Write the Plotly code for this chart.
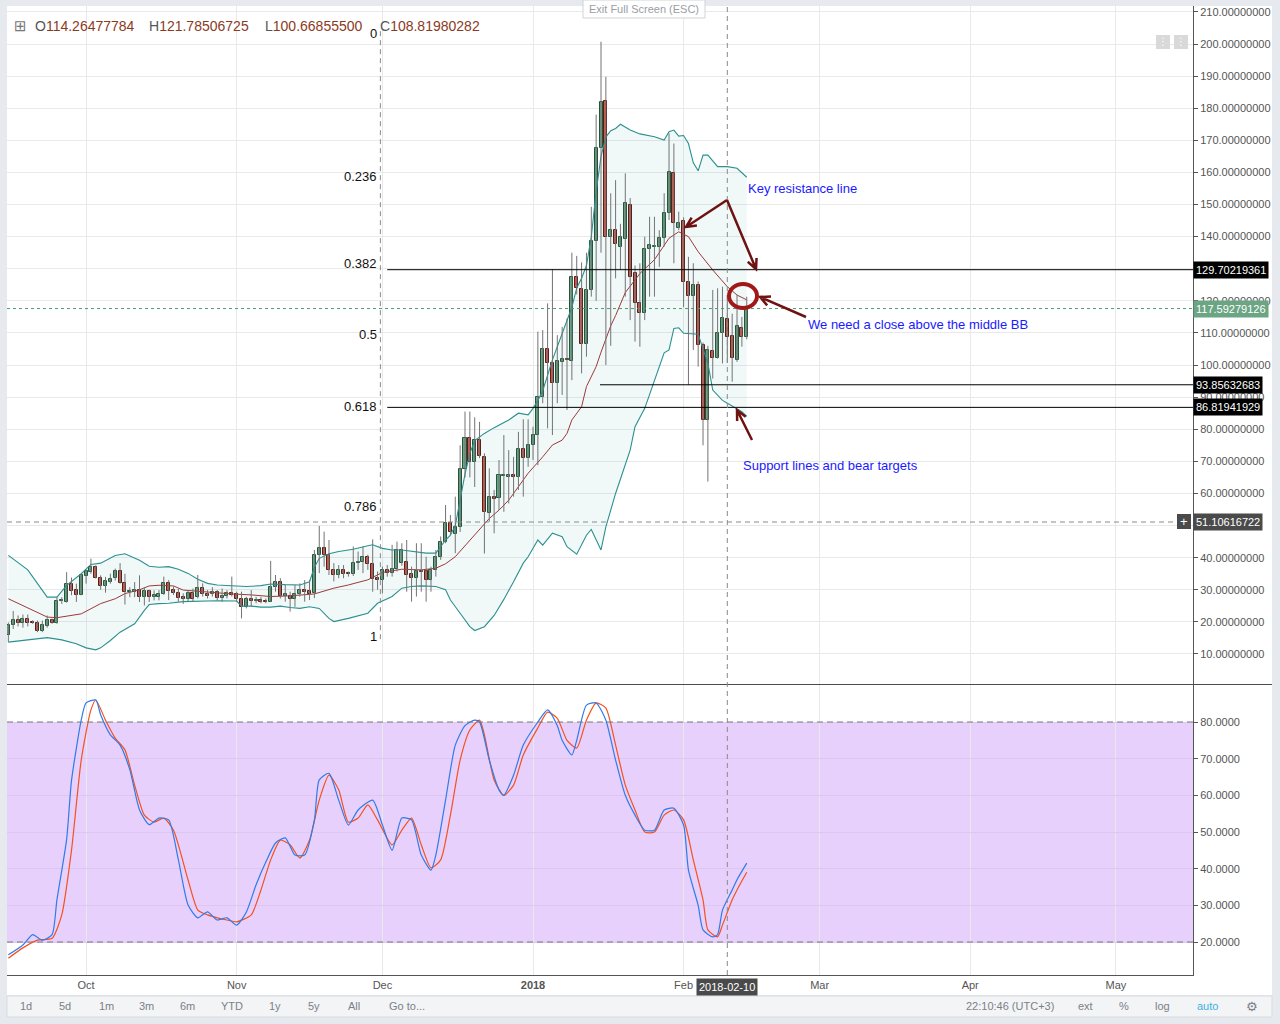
import math
import pandas as pd
import plotly.graph_objects as go

# ---------------- DATA ----------------
START = "2017-09-15"   # first daily candle

opens = [15.8, 18.9, 20.7, 19.6, 21.0, 19.8, 19.8, 17.3, 18.8, 20.5,
         19.6, 26.4, 26.2, 31.9, 29.8, 28.5, 34.3, 35.5, 37.1, 33.8,
         31.3, 32.4, 33.7, 36.0, 32.2, 29.4, 29.3, 30.0, 27.7, 29.5,
         27.9, 27.9, 28.6, 32.0, 29.9, 28.9, 27.9, 27.1, 28.9, 27.6,
         30.4, 28.7, 28.6, 29.2, 27.3, 28.2, 28.9, 28.6, 27.0, 24.5,
         27.1, 26.5, 26.8, 26.5, 26.3, 30.8, 32.3, 28.2, 28.2, 27.0,
         28.6, 29.9, 29.6, 28.9, 40.9, 42.9, 40.7, 36.2, 34.6, 36.2,
         34.9, 34.9, 38.3, 38.6, 40.1, 38.1, 33.6, 32.9, 36.2, 35.2,
         36.5, 38.4, 38.8, 34.9, 33.6, 35.7, 35.7, 32.9, 36.2, 40.3,
         45.0, 50.7, 47.5, 49.6, 67.5, 77.2, 69.9, 76.8, 71.4, 53.8,
         58.8, 58.5, 65.4, 65.2, 65.9, 65.0, 73.7, 71.2, 75.0, 78.2,
         90.1, 104.9, 100.5, 94.5, 100.8, 101.9, 101.4, 127.3, 123.6, 106.7,
         123.4, 138.7, 167.5, 182.2, 140.0, 142.0, 136.7, 139.2, 149.8, 128.6,
         119.2, 116.3, 136.3, 136.8, 136.8, 139.5, 147.5, 159.7, 142.8, 144.9,
         126.0, 121.5, 125.0, 106.2, 82.9, 104.4, 102.1, 109.9, 114.26477784, 109.0,
         101.6, 111.4, 108.6]
highs = [19.8, 23.4, 22.0, 22.3, 22.3, 20.5, 20.4, 20.4, 22.0, 21.0,
         27.7, 27.7, 35.5, 33.8, 31.9, 35.0, 36.3, 39.7, 37.6, 34.5,
         34.0, 35.0, 36.6, 38.3, 35.0, 30.8, 32.4, 34.5, 30.8, 30.0,
         29.8, 29.9, 34.1, 33.0, 31.0, 30.4, 28.9, 29.9, 30.4, 34.6,
         32.0, 29.9, 30.8, 29.9, 30.4, 29.9, 34.1, 29.4, 29.4, 27.8,
         29.9, 27.8, 27.8, 27.3, 39.0, 34.6, 33.6, 31.5, 29.4, 31.5,
         32.0, 33.0, 33.0, 42.4, 49.9, 48.1, 45.5, 38.3, 37.7, 37.7,
         35.7, 43.5, 41.9, 43.5, 40.9, 45.7, 35.7, 37.2, 37.7, 44.0,
         45.0, 44.5, 45.5, 37.2, 44.5, 44.5, 40.3, 37.2, 42.4, 46.6,
         56.4, 53.3, 59.0, 75.0, 85.5, 85.5, 83.7, 82.3, 72.5, 67.8,
         61.1, 70.4, 78.2, 73.5, 71.4, 79.2, 83.1, 83.1, 80.8, 110.4,
         110.9, 119.2, 129.8, 109.3, 111.9, 114.5, 135.0, 134.0, 132.0, 135.0,
         149.3, 178.0, 200.7, 189.8, 153.5, 157.6, 144.0, 159.7, 152.0, 131.0,
         131.7, 140.0, 146.2, 146.2, 142.0, 153.5, 172.2, 169.0, 147.8, 146.0,
         133.7, 131.7, 126.0, 107.0, 106.0, 123.4, 123.9, 124.4, 121.78506725, 116.0,
         121.8, 115.0, 121.3]
lows = [13.7, 17.8, 18.6, 18.2, 18.6, 19.4, 16.8, 16.8, 18.2, 19.4,
        19.4, 25.6, 26.0, 28.3, 26.2, 28.3, 31.9, 35.0, 33.5, 30.0,
        29.1, 31.9, 32.9, 31.9, 25.4, 27.7, 27.7, 26.2, 25.1, 26.2,
        26.7, 26.7, 28.4, 26.8, 28.4, 26.3, 25.6, 26.3, 26.3, 27.3,
        27.9, 27.3, 27.9, 26.8, 26.3, 27.3, 27.9, 26.3, 21.1, 24.2,
        24.7, 25.8, 25.8, 25.8, 26.3, 29.4, 27.3, 26.3, 23.2, 24.7,
        27.9, 26.3, 26.8, 27.4, 35.2, 37.2, 34.6, 32.6, 33.6, 33.6,
        34.1, 34.3, 36.2, 35.2, 36.2, 29.4, 30.0, 28.9, 34.1, 34.1,
        35.7, 37.5, 29.4, 26.3, 27.9, 29.4, 26.3, 29.4, 34.1, 39.3,
        44.5, 47.1, 41.4, 48.0, 65.0, 65.0, 62.0, 71.0, 41.3, 51.2,
        47.6, 54.8, 54.3, 56.9, 59.0, 61.1, 59.0, 68.3, 70.4, 68.8,
        88.1, 80.3, 78.2, 88.1, 90.7, 86.0, 95.3, 122.0, 97.4, 102.6,
        121.3, 120.0, 135.0, 100.0, 106.0, 127.0, 129.6, 121.3, 114.0, 107.3,
        105.7, 114.0, 121.3, 121.3, 130.6, 136.9, 145.2, 131.7, 142.0, 118.0,
        93.8, 104.7, 99.5, 75.0, 63.7, 95.8, 102.0, 100.5, 100.668555, 94.8,
        101.0, 105.7, 108.0]
closes = [18.9, 20.7, 19.6, 21.0, 19.6, 19.7, 17.3, 18.9, 20.5, 19.6,
          26.4, 26.5, 31.9, 29.6, 28.3, 34.5, 35.7, 37.1, 33.8, 31.3,
          32.6, 33.4, 36.0, 32.2, 29.3, 29.5, 30.0, 27.7, 29.5, 27.7,
          28.3, 28.7, 32.0, 29.7, 28.9, 27.5, 27.1, 28.9, 27.1, 30.4,
          28.6, 28.2, 29.2, 27.3, 28.2, 28.9, 28.4, 27.0, 24.7, 27.0,
          26.5, 26.8, 26.3, 26.3, 30.8, 32.3, 28.2, 28.6, 27.0, 28.7,
          29.9, 29.4, 28.8, 40.9, 42.9, 40.7, 36.2, 34.6, 36.2, 34.8,
          34.8, 38.3, 38.8, 40.3, 38.1, 33.3, 32.9, 36.2, 35.2, 36.5,
          42.4, 42.4, 34.6, 33.6, 35.7, 35.5, 32.9, 36.2, 40.3, 45.0,
          50.7, 48.1, 49.7, 67.5, 77.2, 69.9, 76.8, 71.8, 54.3, 58.8,
          58.2, 65.7, 65.5, 65.9, 65.0, 73.7, 71.2, 75.0, 78.2, 90.1,
          104.9, 100.5, 94.5, 101.4, 101.9, 101.6, 127.3, 123.9, 106.7, 123.4,
          138.7, 167.5, 182.0, 139.8, 142.0, 137.6, 140.0, 150.4, 127.5, 119.2,
          116.3, 136.3, 137.4, 136.9, 139.5, 147.5, 160.0, 144.3, 144.4, 126.0,
          121.5, 125.0, 106.2, 82.9, 104.7, 102.1, 109.9, 114.5, 108.81980282, 102.1,
          112.1, 108.6, 117.59279126]

# Bollinger bands, sampled (day offset from START, value)
upper_day = [0, 4, 8, 10, 12, 15, 17, 19, 22, 24, 27, 29, 31, 33, 35, 37, 39, 41, 43, 46,
             49, 52, 54, 57, 60, 62, 63, 64, 66, 68, 71, 74, 75, 77, 79, 81, 84, 86, 88, 89,
             90, 91, 92, 93, 94, 95, 96, 98, 100, 103, 105, 107, 108, 109, 110, 112, 114, 116, 117, 118,
             119, 120, 121, 122, 123, 124, 125, 126, 128, 130, 133, 135, 136, 137, 138, 139, 140, 141, 142, 143,
             144, 146, 148, 150, 152]
upper_val = [40.7, 36.2, 27.7, 27.7, 31.4, 35.0, 37.9, 38.3, 40.7, 41.2, 39.2, 37.3, 37.0, 37.2, 36.4, 35.1, 33.3, 32.0, 31.5, 31.2,
             31.0, 31.3, 31.8, 31.6, 31.5, 32.5, 37.0, 39.8, 41.2, 41.9, 42.6, 43.7, 44.0, 42.9, 42.4, 42.4, 41.9, 41.4, 41.4, 43.5,
             45.5, 47.0, 50.0, 58.0, 66.0, 72.5, 76.5, 78.7, 80.5, 82.9, 85.0, 84.5, 86.5, 89.0, 92.0, 101.6, 110.0, 118.0, 124.0, 127.0,
             131.0, 140.0, 154.0, 165.0, 171.0, 173.0, 173.7, 175.0, 173.2, 172.0, 171.1, 170.1, 172.7, 173.2, 171.3, 171.5, 169.0, 163.0, 160.5, 165.4,
             165.4, 161.8, 161.8, 161.3, 158.5]
mid_day = [0, 3, 5, 8, 10, 12, 15, 17, 19, 22, 24, 27, 29, 31, 34, 36, 40, 43, 46, 50,
           54, 58, 61, 63, 67, 70, 74, 77, 81, 85, 88, 90, 92, 93, 95, 97, 99, 101, 103, 105,
           107, 110, 112, 114, 115, 116, 118, 119, 121, 122, 123, 124, 125, 126, 127, 130, 133, 136, 138, 140,
           142, 145, 148, 150, 152]
mid_val = [27.2, 25.1, 23.6, 21.5, 21.3, 21.7, 22.5, 24.1, 25.7, 27.2, 28.8, 30.0, 31.2, 31.4, 31.2, 29.9, 29.4, 28.9, 28.7, 28.4,
           27.9, 28.1, 28.4, 28.7, 30.5, 31.5, 33.1, 35.4, 36.4, 36.2, 36.7, 38.1, 40.3, 42.0, 45.5, 49.0, 52.2, 54.8, 57.9, 62.1,
           66.3, 71.4, 75.1, 76.6, 78.7, 82.9, 87.0, 93.3, 99.5, 104.0, 108.4, 112.2, 115.4, 118.9, 122.6, 128.5, 132.8, 139.5, 141.5, 140.0,
           135.3, 129.6, 124.4, 121.8, 120.3]
low_day = [0, 3, 5, 8, 11, 14, 16, 18, 19, 21, 23, 26, 28, 29, 31, 33, 36, 40, 43, 47,
           48, 50, 52, 54, 56, 58, 60, 62, 64, 66, 67, 70, 74, 76, 79, 81, 83, 85, 88, 90,
           91, 93, 95, 96, 98, 100, 102, 104, 106, 107, 109, 110, 112, 114, 115, 117, 119, 120, 122, 123,
           125, 128, 129, 131, 133, 135, 136, 137, 138, 139, 142, 143, 144, 145, 147, 148, 150, 151, 152]
low_val = [13.7, 14.2, 14.7, 15.1, 14.4, 13.2, 11.9, 11.3, 11.9, 14.2, 16.8, 19.4, 23.6, 25.4, 25.7, 25.8, 26.3, 26.5, 26.6, 26.5,
           24.9, 24.9, 24.6, 24.6, 24.9, 24.5, 24.2, 24.7, 24.2, 21.1, 20.1, 21.1, 22.7, 25.8, 27.9, 30.5, 31.0, 31.2, 31.0, 30.0,
           26.8, 22.7, 18.5, 17.3, 18.5, 22.0, 27.0, 32.5, 38.3, 40.3, 45.5, 43.9, 47.6, 46.5, 43.4, 41.1, 47.0, 48.8, 42.4, 49.6,
           60.0, 73.5, 80.8, 86.5, 95.3, 103.8, 104.7, 111.4, 111.6, 109.9, 109.6, 105.2, 100.5, 92.2, 89.0, 88.1, 86.5, 85.5, 84.0]

# Stochastic %K and %D, sampled (day offset from START, value)
k_day = [0, 3, 5, 7, 9, 10, 12, 13, 15, 16, 18, 19, 21, 23, 25, 27, 29, 31, 33, 35,
         37, 39, 41, 43, 45, 47, 49, 51, 53, 55, 57, 59, 61, 63, 64, 66, 68, 70, 72, 75,
         77, 79, 81, 83, 85, 87, 88, 90, 92, 94, 96, 97, 99, 101, 102, 104, 106, 109, 111, 113,
         114, 116, 117, 119, 121, 123, 125, 127, 129, 131, 133, 135, 137, 139, 140, 142, 143, 145, 146, 147,
         149, 150, 152]
k_val = [16.5, 19.2, 22.0, 20.5, 22.0, 31.5, 48.0, 64.0, 80.5, 85.2, 86.0, 82.0, 76.5, 73.7, 67.0, 56.0, 52.0, 53.8, 53.3, 42.4,
         30.1, 26.6, 28.2, 26.0, 26.6, 24.6, 28.2, 35.6, 41.8, 47.0, 48.4, 43.7, 43.7, 53.3, 64.2, 66.0, 58.7, 51.9, 56.0, 58.7,
         51.9, 45.0, 53.8, 53.3, 43.7, 39.6, 43.7, 58.7, 73.7, 79.0, 80.5, 80.0, 69.6, 61.5, 60.0, 65.5, 73.7, 80.0, 83.3, 79.0,
         75.0, 71.0, 75.0, 84.6, 85.2, 80.5, 69.6, 60.0, 54.6, 50.5, 50.5, 56.0, 56.5, 51.9, 39.6, 30.0, 23.3, 21.4, 22.0, 28.7,
         34.2, 37.0, 41.5]
d_day = [0, 3, 6, 9, 11, 13, 15, 17, 18, 20, 22, 24, 26, 28, 30, 32, 34, 37, 39, 41,
         43, 45, 47, 50, 52, 54, 56, 58, 60, 62, 64, 66, 68, 70, 72, 74, 76, 79, 81, 83,
         85, 87, 89, 91, 93, 95, 97, 98, 100, 102, 104, 106, 109, 111, 113, 115, 117, 119, 121, 123,
         125, 127, 129, 131, 133, 135, 137, 139, 141, 143, 144, 146, 147, 149, 150, 152]
d_val = [15.6, 18.4, 20.5, 21.0, 27.4, 45.0, 69.6, 83.3, 86.0, 80.5, 75.6, 72.4, 62.8, 54.6, 52.7, 53.8, 50.5, 36.9, 28.7, 27.4,
         26.6, 26.0, 25.5, 27.4, 34.2, 42.4, 47.8, 46.5, 42.9, 47.8, 58.7, 65.5, 61.5, 52.7, 53.8, 57.4, 53.3, 46.5, 50.5, 53.8,
         46.5, 40.2, 42.4, 54.6, 69.6, 77.8, 80.5, 76.5, 64.2, 60.0, 62.8, 71.0, 78.4, 82.7, 81.0, 75.0, 72.9, 80.5, 85.2, 83.8,
         73.7, 62.8, 56.0, 50.0, 50.0, 54.6, 56.0, 53.3, 42.4, 31.5, 23.3, 21.4, 24.6, 31.5, 34.2, 39.0]

# Horizontal levels and labels
hline_vals = [129.70219361, 93.85632683, 86.81941929]
hline_start = ["2017-12-02", "2018-01-14 19:00", "2017-12-02"]
last_price = 117.59279126
cross_price = 51.10616722
cross_date = "2018-02-10"
fib_text = ["0", "0.236", "0.382", "0.5", "0.618", "0.786", "1"]
fib_label_price = [203.4, 158.6, 131.5, 109.4, 87.2, 55.8, 15.6]
month_ticks = ["2017-10-01", "2017-11-01", "2017-12-01", "2018-01-01", "2018-02-01",
               "2018-03-01", "2018-04-01", "2018-05-01"]
month_text = ["Oct", "Nov", "Dec", "<b>2018</b>", "Feb", "Mar", "Apr", "May"]
price_ticks = list(range(10, 211, 10))
stoch_ticks = [20, 30, 40, 50, 60, 70, 80]
header = [("O", "114.26477784"), ("H", "121.78506725"), ("L", "100.66855500"), ("C", "108.81980282")]

# ---------------- FIGURE ----------------
FONT = "Liberation Sans, Arial, sans-serif"
W, H = 1280, 1024
PL, PR, PT, PB = 7, 1193, 6, 975          # plot area in page pixels


def PX(px):
    return (px - PL) / (PR - PL)


def PY(py):
    return (PB - py) / (PB - PT)


start_ts = pd.Timestamp(START)
dates = pd.date_range(START, periods=len(closes), freq="D")


def days(lst):
    return [start_ts + pd.Timedelta(days=d) for d in lst]


UP, DOWN = "#6ba583", "#d75442"
UP_B, DOWN_B = "#225437", "#5b1a13"
WICK = "#737375"

fig = go.Figure()

# Bollinger fill
fig.add_trace(go.Scatter(
    x=days(upper_day) + days(low_day)[::-1], y=upper_val + low_val[::-1],
    fill="toself", fillcolor="rgba(25,135,135,0.06)", line=dict(width=0),
    mode="lines", hoverinfo="skip", showlegend=False, xaxis="x", yaxis="y"))
for dd, vv in ((upper_day, upper_val), (low_day, low_val)):
    fig.add_trace(go.Scatter(x=days(dd), y=vv, mode="lines",
                             line=dict(color="#2a9090", width=1.1),
                             hoverinfo="skip", showlegend=False, xaxis="x", yaxis="y"))
fig.add_trace(go.Scatter(x=days(mid_day), y=mid_val, mode="lines",
                         line=dict(color="#9c3a3a", width=1),
                         hoverinfo="skip", showlegend=False, xaxis="x", yaxis="y"))

# wicks
wx, wy = [], []
for d, h, l in zip(dates, highs, lows):
    wx += [d, d, None]
    wy += [l, h, None]
fig.add_trace(go.Scatter(x=wx, y=wy, mode="lines", line=dict(color=WICK, width=1),
                         hoverinfo="skip", showlegend=False, xaxis="x", yaxis="y"))

# bodies
base = [min(o, c) for o, c in zip(opens, closes)]
hgt = [max(abs(c - o), 0.3) for o, c in zip(opens, closes)]
fill = [UP if c >= o else DOWN for o, c in zip(opens, closes)]
edge = [UP_B if c >= o else DOWN_B for o, c in zip(opens, closes)]
fig.add_trace(go.Bar(x=dates, y=hgt, base=base, width=0.62 * 86400000,
                     marker=dict(color=fill, line=dict(color=edge, width=1)),
                     hoverinfo="skip", showlegend=False, xaxis="x", yaxis="y"))

# stochastic
fig.add_trace(go.Scatter(x=days(d_day), y=d_val, mode="lines",
                         line=dict(color="#f4511e", width=1.2, shape="spline", smoothing=0.6),
                         hoverinfo="skip", showlegend=False, xaxis="x2", yaxis="y2"))
fig.add_trace(go.Scatter(x=days(k_day), y=k_val, mode="lines",
                         line=dict(color="#2f7be8", width=1.2, shape="spline", smoothing=0.6),
                         hoverinfo="skip", showlegend=False, xaxis="x2", yaxis="y2"))

x_left = pd.Timestamp("2017-09-14 17:20")
x_right = pd.Timestamp("2018-05-16 20:40")
GRID = "#e9e9ea"
TICKF = dict(family=FONT, size=11, color="#555555")
# the 50 and 130 labels sit fully under price boxes in the reference
price_text = ["" if v in (50, 130) else "%.8f" % v for v in price_ticks]

fig.update_layout(
    width=W, height=H,
    margin=dict(l=PL, r=W - PR, t=PT, b=H - PB),
    paper_bgcolor="#e6e9ee", plot_bgcolor="rgba(0,0,0,0)",
    showlegend=False, bargap=0,
    xaxis=dict(domain=[0, 1], anchor="y", range=[x_left, x_right], type="date",
               tickvals=month_ticks, showticklabels=False, ticks="",
               showgrid=True, gridcolor=GRID, zeroline=False, showline=False),
    yaxis=dict(domain=[PY(684), 1], anchor="x", range=[0.65, 200 + (44 - PT) / 3.2105],
               side="right", tickvals=price_ticks, ticktext=price_text, ticks="outside", ticklen=4,
               tickcolor="#555", showline=True, linecolor="#555", linewidth=1,
               showgrid=True, gridcolor=GRID, zeroline=False, tickfont=TICKF),
    xaxis2=dict(domain=[0, 1], anchor="y2", matches="x", range=[x_left, x_right], type="date",
                tickvals=month_ticks, ticktext=month_text, ticks="", tickfont=TICKF,
                showgrid=True, gridcolor=GRID, zeroline=False,
                showline=True, linecolor="#555", linewidth=1),
    yaxis2=dict(domain=[0, PY(685)], anchor="x2", range=[20 - (PB - 942) / 3.667, 80 + (722 - 685) / 3.667],
                side="right", tickvals=stoch_ticks, tickformat=".4f", ticks="outside", ticklen=4,
                tickcolor="#555", showline=True, linecolor="#555", linewidth=1,
                showgrid=True, gridcolor="#dcc6f2", zeroline=False, tickfont=TICKF),
)

shapes = []


def prect(x0, y0, x1, y1, fillc, linec=None, layer="below", lw=1):
    shapes.append(dict(type="rect", xref="paper", yref="paper", x0=PX(x0), x1=PX(x1),
                       y0=PY(y1), y1=PY(y0), fillcolor=fillc, layer=layer,
                       line=dict(color=linec or fillc, width=lw if linec else 0)))


def pline(x0, y0, x1, y1, color, width=1, dash=None, layer="above"):
    shapes.append(dict(type="line", xref="paper", yref="paper", x0=PX(x0), x1=PX(x1),
                       y0=PY(y0), y1=PY(y1), layer=layer,
                       line=dict(color=color, width=width, dash=dash)))


# page panels
prect(7, 6, 1272, 995, "#ffffff")
prect(7, 996, 1272, 1017, "#f3f4f6", "#d8dbe0")

# stochastic band
shapes.append(dict(type="rect", xref="x2 domain", yref="y2", x0=0, x1=1, y0=20, y1=80,
                   fillcolor="#e8d0fc", line=dict(width=0), layer="below"))
for lvl in (20, 80):
    shapes.append(dict(type="line", xref="x2 domain", yref="y2", x0=0, x1=1, y0=lvl, y1=lvl,
                       line=dict(color="#7a7a7a", width=1, dash="6px,4px"), layer="above"))

# pane separator
pline(7, 684.5, 1272, 684.5, "#4a4a4a", 1)

# horizontal levels
for v, s in zip(hline_vals, hline_start):
    shapes.append(dict(type="line", xref="x", yref="y", x0=s, x1=x_right, y0=v, y1=v,
                       line=dict(color="#000000", width=1), layer="above"))
shapes.append(dict(type="line", xref="x", yref="y", x0=x_left, x1=x_right, y0=last_price, y1=last_price,
                   line=dict(color="#4f9c6f", width=1, dash="dot"), layer="above"))
# crosshair
shapes.append(dict(type="line", xref="paper", yref="y", x0=0, x1=PX(1177), y0=cross_price, y1=cross_price,
                   line=dict(color="#8a8a8a", width=1, dash="5px,4px"), layer="above"))
shapes.append(dict(type="line", xref="x", yref="paper", x0=cross_date, x1=cross_date, y0=0, y1=1,
                   line=dict(color="#8a8a8a", width=1, dash="5px,4px"), layer="above"))
# fib vertical dashed
shapes.append(dict(type="line", xref="x", yref="y", x0="2017-11-30 14:00", x1="2017-11-30 14:00",
                   y0=204.0, y1=14.3, line=dict(color="#8a8a8a", width=1, dash="5px,4px"), layer="above"))

# arrows (open chevrons)
AR = "#6e1212"


def arrow(tx, ty, hx, hy, head=11, spread=0.45):
    ang = math.atan2(hy - ty, hx - tx)
    pts = []
    for s in (-spread, spread):
        a = ang + math.pi + s
        pts.append((hx + head * math.cos(a), hy + head * math.sin(a)))
    path = "M {} {} L {} {} M {} {} L {} {} L {} {}".format(
        PX(tx), PY(ty), PX(hx), PY(hy),
        PX(pts[0][0]), PY(pts[0][1]), PX(hx), PY(hy), PX(pts[1][0]), PY(pts[1][1]))
    shapes.append(dict(type="path", xref="paper", yref="paper", path=path,
                       line=dict(color=AR, width=2.5), layer="above"))


arrow(727, 200, 686, 227)
arrow(727, 200, 756, 269)
arrow(806, 317, 760, 297)
arrow(752, 440, 737, 410)

# circle
shapes.append(dict(type="circle", xref="paper", yref="paper", x0=PX(729), x1=PX(757),
                   y0=PY(308), y1=PY(284), line=dict(color="#a01818", width=4), layer="above"))

# top buttons
prect(583, 0, 705, 18, "#ffffff", "#cfd3d8", layer="above")
prect(1156, 35, 1170, 49, "#d9d9d9", layer="above")
prect(1174, 35, 1188, 49, "#d9d9d9", layer="above")
# crosshair "+" box
prect(1177, 514, 1191, 529, "#4a4a4a", layer="above")

fig.update_layout(shapes=shapes)

ann = []


def ptext(px, py, text, size=11, color="#555555", anchor="left", bg=None, family=FONT, pad=1):
    d = dict(xref="paper", yref="paper", x=PX(px), y=PY(py), text=text, showarrow=False,
             xanchor=anchor, yanchor="middle", font=dict(family=family, size=size, color=color))
    if bg:
        d["bgcolor"] = bg
        d["borderpad"] = pad
    ann.append(d)


# header
ptext(12, 26, "⊞", size=15, color="#777777", family="DejaVu Sans")
for px, (lab, val) in zip([33, 147, 263, 378], header):
    ptext(px, 26, "<span style='color:#555555'>%s</span><span style='color:#8b3a1e'>%s</span>" % (lab, val),
          size=14, color="#8b3a1e")

# fib labels
for t, p in zip(fib_text, fib_label_price):
    ann.append(dict(xref="x", yref="y", x="2017-11-30 08:00", y=p, text=t, showarrow=False,
                    xanchor="right", yanchor="middle", font=dict(family=FONT, size=13, color="#111111")))

# axis value boxes
for v in hline_vals:
    ann.append(dict(xref="paper", yref="y", x=1.0, y=v, text="%.8f" % v, showarrow=False,
                    xanchor="left", yanchor="middle", bgcolor="#000000", borderpad=2,
                    font=dict(family=FONT, size=11, color="#ffffff")))
ann.append(dict(xref="paper", yref="y", x=1.0, y=last_price, text="%.8f" % last_price, showarrow=False,
                xanchor="left", yanchor="middle", bgcolor="#6ba583", borderpad=2,
                font=dict(family=FONT, size=11, color="#ffffff")))
ann.append(dict(xref="paper", yref="y", x=1.0, y=cross_price, text="%.8f" % cross_price, showarrow=False,
                xanchor="left", yanchor="middle", bgcolor="#4a4a4a", borderpad=2,
                font=dict(family=FONT, size=11, color="#ffffff")))
ptext(1184, 521.5, "+", size=13, color="#ffffff", anchor="center")
ann.append(dict(xref="x", yref="paper", x=cross_date, y=PY(987), text=cross_date, showarrow=False,
                xanchor="center", yanchor="middle", bgcolor="#4a4a4a", borderpad=2,
                font=dict(family=FONT, size=11, color="#ffffff")))

# comments
BLUE = "#1a1aff"
ptext(746, 188, "Key resistance line", size=13, color=BLUE)
ptext(806, 324, "We need a close above the middle BB", size=13, color=BLUE)
ptext(741, 466, "Support lines and bear targets", size=13, color=BLUE)

# top button text
ptext(644, 9, "Exit Full Screen (ESC)", size=11, color="#9a9ea4", anchor="center")
ptext(1163, 42, "⋮", size=10, color="#ffffff", anchor="center", family="DejaVu Sans")
ptext(1181, 42, "⋮", size=10, color="#ffffff", anchor="center", family="DejaVu Sans")

# bottom toolbar
TB = "#7b8088"
for px, t in [(26, "1d"), (65, "5d"), (106, "1m"), (146, "3m"), (187, "6m"), (232, "YTD"),
              (275, "1y"), (314, "5y"), (354, "All"), (407, "Go to...")]:
    ptext(px, 1006, t, size=11, color=TB, anchor="center")
for px, t in [(1010, "22:10:46 (UTC+3)"), (1085, "ext"), (1124, "%"), (1162, "log")]:
    ptext(px, 1006, t, size=11, color=TB, anchor="center")
ptext(1208, 1006, "auto", size=11, color="#3cb1e0", anchor="center")
ptext(1252, 1006, "⚙", size=13, color=TB, anchor="center", family="DejaVu Sans")
for px in [45, 85, 125, 166, 208, 256, 294, 333, 374, 1063, 1107, 1141, 1184, 1234]:
    pline(px, 999, px, 1013, "#d3d6db", 1)

fig.update_layout(annotations=ann)
fig.write_html("out.html", config={"displayModeBar": False},
               post_script="document.body.style.margin='0';document.body.style.overflow='hidden';")
